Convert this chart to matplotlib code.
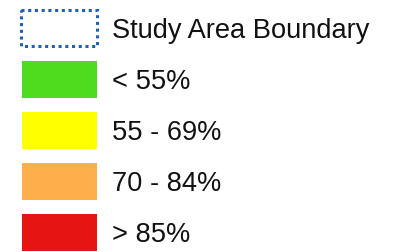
import matplotlib
matplotlib.use("Agg")
import matplotlib.pyplot as plt
from matplotlib.patches import Rectangle

plt.rcParams['font.family'] = ['Liberation Sans', 'DejaVu Sans']

# legend entries
labels = ["Study Area Boundary", "< 55%", "55 - 69%", "70 - 84%", "> 85%"]
face_colors = ["none", "#4FDC1F", "#FFFF00", "#FDAD4A", "#E71414"]
edge_colors = ["#1F5FB5", "none", "none", "none", "none"]

fig = plt.figure(figsize=(3.93, 2.52), dpi=100)
ax = fig.add_axes([0, 0, 1, 1])
ax.set_xlim(0, 393)
ax.set_ylim(252, 0)
ax.axis("off")

row_top = 9.5
row_step = 51
box_w, box_h = 75, 37

for i, (lab, fc, ec) in enumerate(zip(labels, face_colors, edge_colors)):
    y = row_top + i * row_step
    if i == 0:
        ax.add_patch(Rectangle((21, y), box_w + 1, box_h - 1, facecolor=fc,
                               edgecolor=ec, lw=2.2, linestyle=(0, (1, 1.2)),
                               capstyle="butt", joinstyle="miter"))
    else:
        ax.add_patch(Rectangle((22, y), box_w, box_h, facecolor=fc,
                               edgecolor="none"))
    ax.text(112, 38 + i * row_step, lab, fontsize=19.6, color="#111111",
            va="baseline", ha="left")

fig.savefig("out.png", dpi=100)
